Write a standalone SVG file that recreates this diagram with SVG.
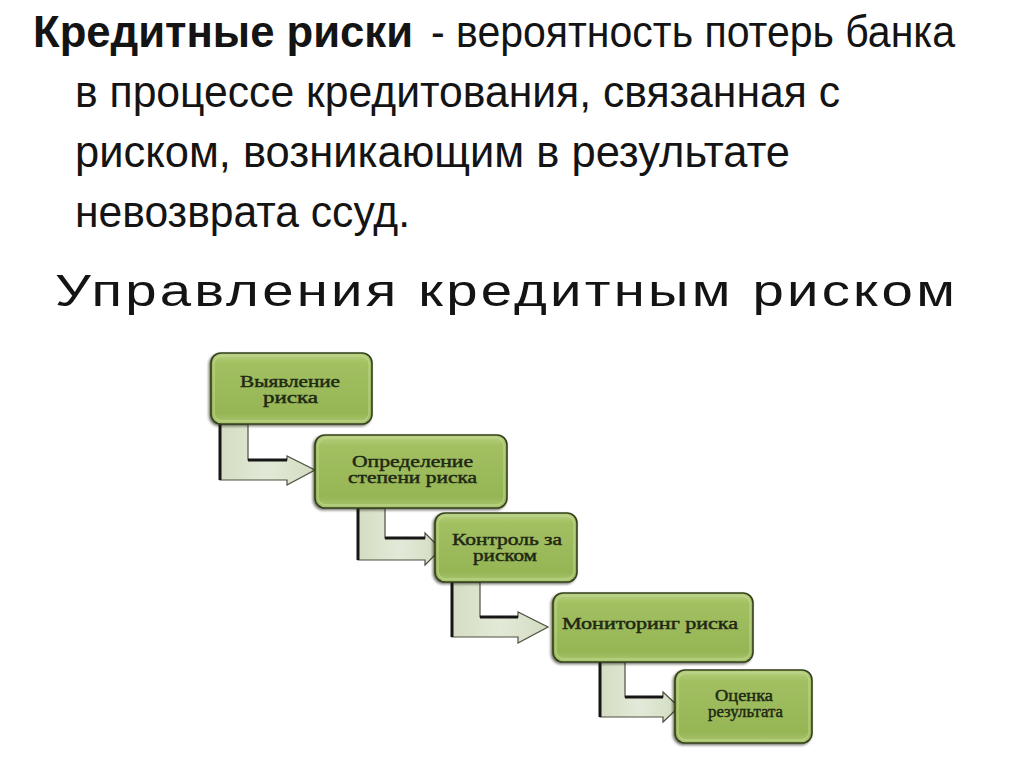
<svg xmlns="http://www.w3.org/2000/svg" width="1024" height="767" viewBox="0 0 1024 767">
  <defs>
    <linearGradient id="boxGrad" x1="0" y1="0" x2="0" y2="1">
      <stop offset="0" stop-color="#b8d181"/>
      <stop offset="0.15" stop-color="#a2c061"/>
      <stop offset="0.85" stop-color="#96b555"/>
      <stop offset="1" stop-color="#abc76f"/>
    </linearGradient>
    <linearGradient id="arrGrad" x1="0" y1="0" x2="1" y2="0">
      <stop offset="0" stop-color="#d4ddc2"/>
      <stop offset="0.5" stop-color="#e3e9d8"/>
      <stop offset="1" stop-color="#d2dcc0"/>
    </linearGradient>
    <filter id="shadow" x="-10%" y="-10%" width="120%" height="130%">
      <feDropShadow dx="-1.5" dy="1.5" stdDeviation="1.2" flood-color="#1c2410" flood-opacity="0.6"/>
    </filter>
  </defs>
  <style>
    .head { font-family: "Liberation Sans", "Open Sans", sans-serif; font-size: 44px; fill: #141414; }
    .b { font-weight: bold; }
    .sub { font-family: "Liberation Sans", "Open Sans", sans-serif; font-size: 44px; fill: #141414; }
    .box { fill: url(#boxGrad); stroke: #34401c; stroke-width: 1.6; filter: url(#shadow); }
    .inner { fill: none; stroke: #c9dc9e; stroke-opacity: 0.55; stroke-width: 1.5; }
    .lbl { font-family: "Liberation Serif", "DejaVu Serif", serif; font-size: 16px; fill: #1f2914; stroke: #1f2914; stroke-width: 0.45; }
    .arr { fill: url(#arrGrad); stroke: #4c5040; stroke-width: 1.2; stroke-linejoin: miter; }
    .edge { stroke: #161616; stroke-width: 3; fill: none; }
  </style>
  <rect width="1024" height="767" fill="#ffffff"/>

  <g id="heading">
    <text class="head b" x="33" y="47" textLength="380" lengthAdjust="spacingAndGlyphs">Кредитные риски</text>
    <text class="head" x="431" y="47" textLength="524" lengthAdjust="spacingAndGlyphs">- вероятность потерь банка</text>
    <text class="head" x="75" y="107" textLength="765" lengthAdjust="spacingAndGlyphs">в процессе кредитования, связанная с</text>
    <text class="head" x="75" y="167" textLength="715" lengthAdjust="spacingAndGlyphs">риском, возникающим в результате</text>
    <text class="head" x="75" y="227" textLength="335" lengthAdjust="spacingAndGlyphs">невозврата ссуд.</text>
    <text class="sub" transform="translate(55,306) scale(1.28,1)" x="0" y="0" textLength="703" lengthAdjust="spacing">Управления кредитным риском</text>
  </g>

  <g id="connectors">
    <path class="arr" d="M220,424 L248,424 L248,460 L287,460 L287,456 L315,470 L287,485 L287,480 L220,480 Z"/>
    <path class="edge" d="M220,424 L220,480 M248,460 L287,460"/>
    <path class="arr" d="M358,508 L385,508 L385,538 L425,538 L425,533 L441,549 L425,565 L425,560 L358,560 Z"/>
    <path class="edge" d="M358,508 L358,560 M385,538 L425,538"/>
    <path class="arr" d="M452,582 L480,582 L480,617 L518,617 L518,612 L548,627 L518,643 L518,637 L452,637 Z"/>
    <path class="edge" d="M452,582 L452,637 M480,617 L518,617"/>
    <path class="arr" d="M600,662 L625,662 L625,697 L663,697 L663,692 L679,707 L663,722 L663,717 L600,717 Z"/>
    <path class="edge" d="M600,662 L600,717 M625,697 L663,697"/>
  </g>

  <g id="node1">
    <rect class="box" x="211" y="353" width="161" height="71" rx="10"/>
    <rect class="inner" x="214" y="356" width="155" height="65" rx="8"/>
    <text class="lbl" x="240" y="387" textLength="100" lengthAdjust="spacingAndGlyphs">Выявление</text>
    <text class="lbl" x="263" y="403" textLength="55" lengthAdjust="spacingAndGlyphs">риска</text>
  </g>
  <g id="node2">
    <rect class="box" x="315" y="435" width="192" height="73" rx="10"/>
    <rect class="inner" x="318" y="438" width="186" height="67" rx="8"/>
    <text class="lbl" x="352" y="467" textLength="121" lengthAdjust="spacingAndGlyphs">Определение</text>
    <text class="lbl" x="348" y="483" textLength="129" lengthAdjust="spacingAndGlyphs">степени риска</text>
  </g>
  <g id="node3">
    <rect class="box" x="435" y="513" width="142" height="69" rx="10"/>
    <rect class="inner" x="438" y="516" width="136" height="63" rx="8"/>
    <text class="lbl" x="452" y="545" textLength="110" lengthAdjust="spacingAndGlyphs">Контроль за</text>
    <text class="lbl" x="473" y="561" textLength="64" lengthAdjust="spacingAndGlyphs">риском</text>
  </g>
  <g id="node4">
    <rect class="box" x="553" y="593" width="200" height="69" rx="10"/>
    <rect class="inner" x="556" y="596" width="194" height="63" rx="8"/>
    <text class="lbl" x="562" y="629" textLength="176" lengthAdjust="spacingAndGlyphs">Мониторинг риска</text>
  </g>
  <g id="node5">
    <rect class="box" x="675" y="670" width="137" height="73" rx="10"/>
    <rect class="inner" x="678" y="673" width="131" height="67" rx="8"/>
    <text class="lbl" x="715" y="701" textLength="58" lengthAdjust="spacingAndGlyphs">Оценка</text>
    <text class="lbl" x="708" y="717" textLength="75" lengthAdjust="spacingAndGlyphs">результата</text>
  </g>
</svg>
